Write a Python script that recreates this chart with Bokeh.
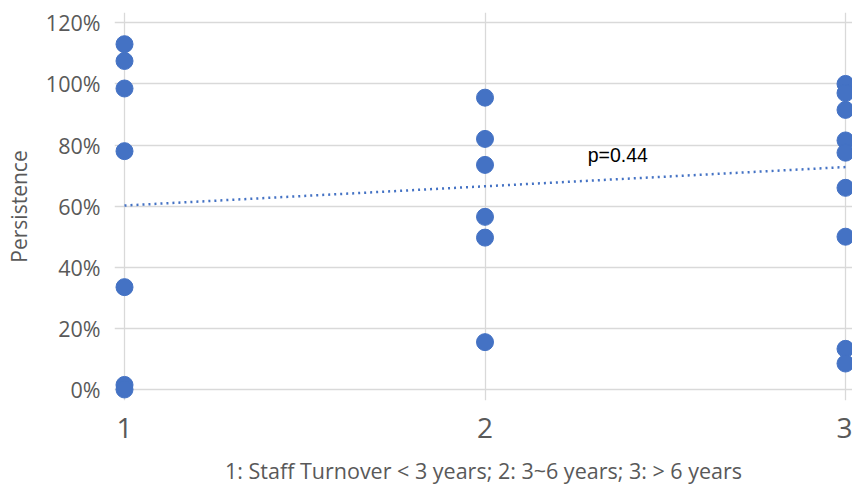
from bokeh.plotting import figure
from bokeh.models import Range1d, FixedTicker, NumeralTickFormatter, ColumnDataSource
from bokeh.core.properties import value
from bokeh.embed import file_html
from bokeh.resources import INLINE

# ---- data ----
turnover_group = [1, 1, 1, 1, 1, 1, 1,
                  2, 2, 2, 2, 2, 2,
                  3, 3, 3, 3, 3, 3, 3, 3, 3]
persistence = [1.13, 1.075, 0.985, 0.78, 0.335, 0.015, 0.0,
               0.955, 0.82, 0.735, 0.565, 0.497, 0.155,
               1.0, 0.97, 0.915, 0.815, 0.775, 0.66, 0.50, 0.133, 0.085]
trend_x = [1, 3]
trend_y = [0.602, 0.728]
x_ticks = [1, 2, 3]
y_ticks = [0, 0.2, 0.4, 0.6, 0.8, 1.0, 1.2]
annot_x = [2.285]
annot_y = [0.768]
annot_text = ["p=0.44"]
x_title = "1: Staff Turnover < 3 years; 2: 3~6 years; 3: > 6 years"
y_title = "Persistence"

BLUE = "#4472C4"
GRID = "#d9d9d9"
LABEL = "#595959"
FONT = "Open Sans"

p = figure(width=852, height=489, output_backend="svg", toolbar_location=None,
           x_range=Range1d(0.97226, 3.0194), y_range=Range1d(-0.036, 1.2337),
           min_border_left=114, min_border_right=0, min_border_top=12, min_border_bottom=89)
p.outline_line_color = None
p.background_fill_color = "white"
p.border_fill_color = "white"

# grids
p.xgrid.ticker = FixedTicker(ticks=x_ticks)
p.ygrid.ticker = FixedTicker(ticks=y_ticks)
p.xgrid.grid_line_color = GRID
p.ygrid.grid_line_color = GRID
p.xgrid.grid_line_width = 1.3
p.ygrid.grid_line_width = 1.3

# x axis
xa = p.xaxis[0]
xa.ticker = FixedTicker(ticks=x_ticks)
xa.axis_line_color = None
xa.major_tick_line_color = None
xa.minor_tick_line_color = None
xa.major_tick_out = 0
xa.major_label_standoff = 17
xa.major_label_text_font = FONT
xa.major_label_text_font_size = "28px"
xa.major_label_text_color = LABEL
xa.axis_label = x_title
xa.axis_label_text_font = FONT
xa.axis_label_text_font_size = "21.5px"
xa.axis_label_text_font_style = "normal"
xa.axis_label_text_color = LABEL
xa.axis_label_standoff = 15

# y axis
ya = p.yaxis[0]
ya.ticker = FixedTicker(ticks=y_ticks)
ya.formatter = NumeralTickFormatter(format="0%")
ya.axis_line_color = None
ya.major_tick_line_color = None
ya.minor_tick_line_color = None
ya.major_tick_out = 0
ya.major_label_standoff = 14
ya.major_label_text_font = FONT
ya.major_label_text_font_size = "21.5px"
ya.major_label_text_color = LABEL
ya.axis_label = y_title
ya.axis_label_text_font = FONT
ya.axis_label_text_font_size = "21px"
ya.axis_label_text_font_style = "normal"
ya.axis_label_text_color = LABEL
ya.axis_label_standoff = 10

# trendline
p.line(trend_x, trend_y, line_color=BLUE, line_width=2.5, line_dash="2 4")

# points
src = ColumnDataSource(dict(x=turnover_group, y=persistence))
p.scatter("x", "y", source=src, size=17, fill_color=BLUE, line_color=BLUE)

# annotation
p.text(x=annot_x, y=annot_y, text=annot_text, text_font=value("Liberation Sans"),
       text_font_size="19.5px", text_color="#000000", text_align="left",
       text_baseline="alphabetic")

open("out.html", "w").write(file_html(p, INLINE))
